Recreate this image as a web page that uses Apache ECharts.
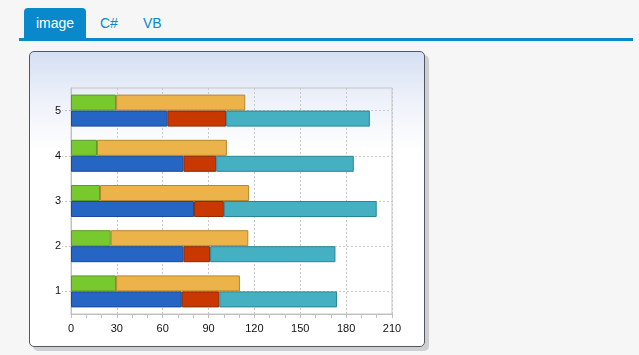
<!DOCTYPE html>
<html>
<head>
<meta charset="utf-8">
<script src="https://cdn.jsdelivr.net/npm/echarts@6/dist/echarts.min.js"></script>
<style>
  html, body { margin: 0; padding: 0; width: 639px; height: 355px; overflow: hidden; background: #f6f6f6; font-family: "Liberation Sans", Arial, sans-serif; }
  #tabs { position: absolute; left: 0; top: 0; width: 639px; height: 42px; }
  .tab { position: absolute; top: 8px; height: 30px; line-height: 30px; font-size: 14px; color: #0a8acb; }
  #t1 { left: 24px; width: 62px; background: #0a88cc; color: #fff; text-align: center; border-radius: 4px 4px 0 0; }
  #t2 { left: 100px; }
  #t3 { left: 143px; }
  #line { position: absolute; left: 19px; top: 38px; width: 614px; height: 3px; background: #0a88cc; }
  #panel { position: absolute; left: 29px; top: 51px; width: 394px; height: 294px; border: 1px solid #4e5964; border-radius: 5px;
           background: linear-gradient(to bottom, #d5dff3 0px, #eef2fa 50px, #ffffff 100px, #ffffff 294px);
           box-shadow: 4px 4px 0 #cfcfcf; }
  #chart { position: absolute; left: 0; top: 0; width: 639px; height: 355px; }
</style>
</head>
<body>
<div id="tabs">
  <div class="tab" id="t1">image</div>
  <div class="tab" id="t2">C#</div>
  <div class="tab" id="t3">VB</div>
  <div id="line"></div>
</div>
<div id="panel"></div>
<div id="chart"></div>
<script>
const categories = ['1', '2', '3', '4', '5'];
const green  = [29.5, 26, 19, 17, 29.5];
const orange = [81, 90, 97.5, 85, 84.5];
const blue   = [72.5, 73.5, 80.5, 73.5, 63];
const red    = [24.5, 17.5, 19.5, 21.5, 38.5];
const teal   = [77, 82, 100, 90, 94];
const xTicks = { min: 0, max: 210, interval: 30 };

const chart = echarts.init(document.getElementById('chart'), null, { renderer: 'canvas' });
function bar(name, data, stack, color, border) {
  return {
    name, type: 'bar', stack, data, barWidth: 16, barGap: '0%',
    itemStyle: { color, borderColor: border, borderWidth: 1 },
    emphasis: { disabled: true }, animation: false
  };
}
chart.setOption({
  animation: false,
  backgroundColor: 'transparent',
  grid: { left: 71, top: 88, width: 321, height: 226, show: true, borderColor: '#c6c6c6', borderWidth: 1, containLabel: false },
  xAxis: {
    type: 'value', min: xTicks.min, max: xTicks.max, interval: xTicks.interval,
    axisLine: { show: true, lineStyle: { color: '#c0c0c0' } },
    axisTick: { show: true, length: 4, lineStyle: { color: '#c0c0c0' } },
    minorTick: { show: true, splitNumber: 3, length: 4, lineStyle: { color: '#c0c0c0' } },
    splitLine: { show: true, lineStyle: { color: '#c8c8c8', type: [2, 2] } },
    axisLabel: { color: '#111', fontSize: 11, margin: 9, fontFamily: 'Liberation Sans' }
  },
  yAxis: {
    type: 'category', data: categories,
    axisLine: { show: true, lineStyle: { color: '#c0c0c0' } },
    axisTick: { show: true, alignWithLabel: true, length: 9, lineStyle: { color: '#c0c0c0', type: [2, 2] } },
    splitLine: { show: true, alignWithLabel: true, lineStyle: { color: '#c8c8c8', type: [2, 2] } },
    axisLabel: { color: '#111', fontSize: 11, margin: 10, fontFamily: 'Liberation Sans' }
  },
  series: [
    bar('g', green, 'a', '#78c92e', '#5c9a28'),
    bar('o', orange, 'a', '#ecb34b', '#b8862e'),
    bar('b', blue, 'b', '#2565c3', '#1b4b96'),
    bar('r', red, 'b', '#c83800', '#8e2a00'),
    bar('t', teal, 'b', '#46b0c3', '#2c8596')
  ]
});
</script>
</body>
</html>
